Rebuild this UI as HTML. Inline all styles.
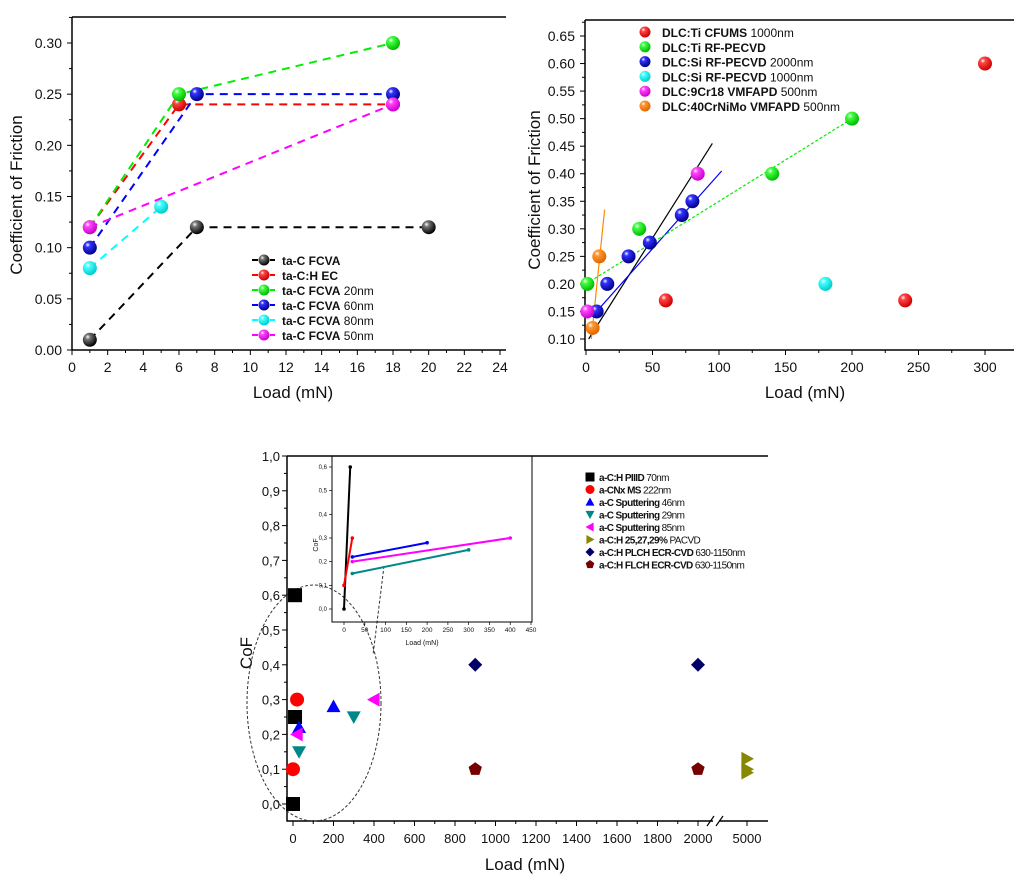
<!DOCTYPE html>
<html><head><meta charset="utf-8"><style>
body{margin:0;background:#fff;width:1024px;height:880px;overflow:hidden}
svg{position:absolute;left:0;top:0;font-family:"Liberation Sans",sans-serif}
</style></head><body>
<svg id="s" width="1024" height="880">
<defs>
<radialGradient id="gk" cx="0.35" cy="0.3" r="0.7"><stop offset="0" stop-color="#fff"/><stop offset="0.25" stop-color="#777"/><stop offset="1" stop-color="#000"/></radialGradient>
<radialGradient id="gr" cx="0.35" cy="0.3" r="0.7"><stop offset="0" stop-color="#fff"/><stop offset="0.25" stop-color="#f44"/><stop offset="1" stop-color="#c00"/></radialGradient>
<radialGradient id="gg" cx="0.35" cy="0.3" r="0.7"><stop offset="0" stop-color="#fff"/><stop offset="0.25" stop-color="#4f4"/><stop offset="1" stop-color="#0b0"/></radialGradient>
<radialGradient id="gb" cx="0.35" cy="0.3" r="0.7"><stop offset="0" stop-color="#fff"/><stop offset="0.25" stop-color="#33f"/><stop offset="1" stop-color="#008"/></radialGradient>
<radialGradient id="gc" cx="0.35" cy="0.3" r="0.7"><stop offset="0" stop-color="#fff"/><stop offset="0.25" stop-color="#4ff"/><stop offset="1" stop-color="#0cc"/></radialGradient>
<radialGradient id="gm" cx="0.35" cy="0.3" r="0.7"><stop offset="0" stop-color="#fff"/><stop offset="0.25" stop-color="#f4f"/><stop offset="1" stop-color="#c0c"/></radialGradient>
<radialGradient id="go" cx="0.35" cy="0.3" r="0.7"><stop offset="0" stop-color="#fff"/><stop offset="0.25" stop-color="#f93"/><stop offset="1" stop-color="#d60"/></radialGradient>
</defs>
</svg>
<script>
// Panel A data
const aNames=["ta-C FCVA|","ta-C:H EC|","ta-C FCVA|20nm","ta-C FCVA|60nm","ta-C FCVA|80nm","ta-C FCVA|50nm"];
const aX=[[1,7,20],[1,6,18],[1,6,18],[1,7,18],[1,5],[1,18]];
const aY=[[0.01,0.12,0.12],[0.12,0.24,0.24],[0.12,0.25,0.30],[0.10,0.25,0.25],[0.08,0.14],[0.12,0.24]];
const aColors=["#000","#f00","#0e0","#00f","#0ff","#f0f"];
const aGrads=["gk","gr","gg","gb","gc","gm"];
const aXTicks=[0,2,4,6,8,10,12,14,16,18,20,22,24];
const aYTicks=[0,0.05,0.10,0.15,0.20,0.25,0.30];
// Panel B data
const bNames=["DLC:Ti CFUMS|1000nm","DLC:Ti RF-PECVD|","DLC:Si RF-PECVD|2000nm","DLC:Si RF-PECVD|1000nm","DLC:9Cr18 VMFAPD|500nm","DLC:40CrNiMo VMFAPD|500nm"];
const bX=[[60,240,300],[1,40,140,200],[8,16,32,48,72,80],[180],[1,84],[5,10]];
const bY=[[0.17,0.17,0.60],[0.20,0.30,0.40,0.50],[0.15,0.20,0.25,0.275,0.325,0.35],[0.20],[0.15,0.40],[0.12,0.25]];
const bGrads=["gr","gg","gb","gc","gm","go"];
const bFitX=[[2,95],[8,102],[4,14],[0,200]];
const bFitY=[[0.10,0.455],[0.15,0.405],[0.10,0.335],[0.20,0.50]];
const bFitC=["#000","#00f","#f80","#0e0"];
const bXTicks=[0,50,100,150,200,250,300];
const bYTicks=[0.10,0.15,0.20,0.25,0.30,0.35,0.40,0.45,0.50,0.55,0.60,0.65];
// Panel C data
const cNames=["a-C:H PIIID|70nm","a-CNx MS|222nm","a-C Sputtering|46nm","a-C Sputtering|29nm","a-C Sputtering|85nm","a-C:H 25,27,29%|PACVD","a-C:H PLCH ECR-CVD|630-1150nm","a-C:H FLCH ECR-CVD|630-1150nm"];
const cShapes=["sq","ci","tu","td","tl","tr","di","pe"];
const cColors=["#000","#f00","#00f","#088","#f0f","#880","#006","#700"];
const cX=[[10,10,0],[20,0],[200,30],[300,30],[400,20],[5000,5000,5000],[900,2000],[900,2000]];
const cY=[[0.6,0.25,0.0],[0.3,0.1],[0.28,0.22],[0.25,0.15],[0.3,0.2],[0.13,0.10,0.09],[0.4,0.4],[0.1,0.1]];
const cXTicks=[0,200,400,600,800,1000,1200,1400,1600,1800,2000];
const cYTicks=[0,0.1,0.2,0.3,0.4,0.5,0.6,0.7,0.8,0.9,1.0];
const iX=[[0,15],[0,20],[20,200],[20,400],[20,300]];
const iY=[[0,0.6],[0.1,0.3],[0.22,0.28],[0.2,0.3],[0.15,0.25]];
const iC=["#000","#f00","#00f","#f0f","#088"];
const iXTicks=[0,50,100,150,200,250,300,350,400,450];
const iYTicks=[0,0.1,0.2,0.3,0.4,0.5,0.6];

const S=document.getElementById('s');const NS="http://www.w3.org/2000/svg";
function mk(t,a,p){const e=document.createElementNS(NS,t);for(const k in a)e.setAttribute(k,a[k]);(p||S).appendChild(e);return e;}
function tx(x,y,s,sz,anc,extra){const e=mk('text',Object.assign({x:x,y:y,'font-size':sz,'text-anchor':anc||'middle',fill:'#111'},extra||{}));e.textContent=s;return e;}
function sc(d0,d1,r0,r1){return v=>r0+(v-d0)*(r1-r0)/(d1-d0);}

// ---------- Panel A ----------
{const gA=mk('g',{});


const X=sc(0,24,72,500),Y=sc(0,0.30,350,43);
mk('path',{d:'M72 17H506M72 17V350H506',stroke:'#000','stroke-width':1.5,fill:'none'},gA);
aXTicks.forEach(v=>{mk('line',{x1:X(v),x2:X(v),y1:350,y2:355,stroke:'#000'},gA);if(v<24)mk('line',{x1:X(v+1),x2:X(v+1),y1:350,y2:353,stroke:'#000'},gA);tx(X(v),372,v,14,'middle',{});});
aYTicks.forEach(v=>{mk('line',{x1:67,x2:72,y1:Y(v),y2:Y(v),stroke:'#000'},gA);mk('line',{x1:69,x2:72,y1:Y(v+0.025),y2:Y(v+0.025),stroke:'#000'},gA);tx(62,Y(v)+5,v.toFixed(2),14,'end');});
tx(293,398,'Load (mN)',17);
const yt=tx(0,0,'Coefficient of Friction',17,'middle',{transform:'translate(22,195) rotate(-90)'});

aX.forEach((xs,i)=>{const p=xs.map((x,j)=>X(x)+','+Y(aY[i][j])).join(' ');
const l=mk('polyline',{points:p,stroke:aColors[i],'stroke-width':2,'stroke-dasharray':'8,6',fill:'none'},gA);

xs.forEach((x,j)=>{const c=mk('circle',{cx:X(x),cy:Y(aY[i][j]),r:7,fill:'url(#'+aGrads[i]+')'},gA);

});});
aNames.forEach((n,i)=>{const y=260+i*15;mk('line',{x1:252,x2:275,y1:y,y2:y,stroke:aColors[i],'stroke-width':2,'stroke-dasharray':'6,3'},gA);mk('circle',{cx:264,cy:y,r:5.5,fill:'url(#'+aGrads[i]+')'},gA);
const p=n.split('|');const t=tx(282,y+5,'',12,'start');const a=mk('tspan',{'font-weight':'bold'},t);a.textContent=p[0];if(p[1]){const b=mk('tspan',{},t);b.textContent=' '+p[1];}
});
}
// ---------- Panel B ----------
{const X=sc(0,300,586,985),Y=sc(0.10,0.65,339,36);
mk('path',{d:'M585 20H1014M585 20V350H1014',stroke:'#000','stroke-width':1.5,fill:'none'});
bXTicks.forEach(v=>{mk('line',{x1:X(v),x2:X(v),y1:350,y2:355,stroke:'#000'});if(v<300)mk('line',{x1:X(v+25),x2:X(v+25),y1:350,y2:353,stroke:'#000'});tx(X(v),372,v,14);});
bYTicks.forEach(v=>{mk('line',{x1:580,x2:585,y1:Y(v),y2:Y(v),stroke:'#000'});mk('line',{x1:582,x2:585,y1:Y(v+0.025),y2:Y(v+0.025),stroke:'#000'});tx(575,Y(v)+5,v.toFixed(2),14,'end');});
tx(805,398,'Load (mN)',17);
tx(0,0,'Coefficient of Friction',17,'middle',{transform:'translate(540,190) rotate(-90)'});
bFitX.forEach((xs,i)=>{const l=mk('line',{x1:X(xs[0]),y1:Y(bFitY[i][0]),x2:X(xs[1]),y2:Y(bFitY[i][1]),stroke:bFitC[i],'stroke-width':1.2,'stroke-dasharray':i==3?'3,2':'none'});
});
bX.forEach((xs,i)=>xs.forEach((x,j)=>{const c=mk('circle',{cx:X(x),cy:Y(bY[i][j]),r:7,fill:'url(#'+bGrads[i]+')'});

}));
bNames.forEach((n,i)=>{const y=32+i*14.8;mk('circle',{cx:645,cy:y,r:5.5,fill:'url(#'+bGrads[i]+')'});const p=n.split('|');
const t=tx(662,y+5,'',12,'start');const a=mk('tspan',{'font-weight':'bold'},t);a.textContent=p[0];if(p[1]){const b=mk('tspan',{},t);b.textContent=' '+p[1];}
});
}
// ---------- Panel C ----------
{const X=v=>v>=5000?747:293+v*(698-293)/2000,Y=sc(0,1,804,456);
mk('path',{d:'M287 456H768M287 456V821H713M719 821H768',stroke:'#000','stroke-width':1.5,fill:'none'});
mk('path',{d:'M707 826L714 816M716 826L723 816',stroke:'#000','stroke-width':1.2});
cXTicks.forEach(v=>{mk('line',{x1:X(v),x2:X(v),y1:821,y2:826,stroke:'#000'});if(v<2000)mk('line',{x1:X(v+100),x2:X(v+100),y1:821,y2:824,stroke:'#000'});tx(X(v),843,v,13);});
mk('line',{x1:747,x2:747,y1:821,y2:826,stroke:'#000'});tx(747,843,'5000',13);
cYTicks.forEach(v=>{mk('line',{x1:282,x2:287,y1:Y(v),y2:Y(v),stroke:'#000'});if(v<1)mk('line',{x1:284,x2:287,y1:Y(v+0.05),y2:Y(v+0.05),stroke:'#000'});tx(280,Y(v)+5,v.toFixed(1).replace('.',','),13,'end');});
tx(525,870,'Load (mN)',17);
tx(0,0,'CoF',17,'middle',{transform:'translate(252,653) rotate(-90)'});
mk('ellipse',{cx:314,cy:703,rx:67,ry:118,fill:'none',stroke:'#333','stroke-dasharray':'3,2'});
mk('line',{x1:384,y1:566,x2:373,y2:655,stroke:'#333','stroke-dasharray':'3,2'});
function shape(t,x,y,c,r){let d;
if(t=='sq')return mk('rect',{x:x-r,y:y-r,width:2*r,height:2*r,fill:c});
if(t=='ci')return mk('circle',{cx:x,cy:y,r:r,fill:c});
if(t=='tu')d=`M${x} ${y-r}L${x+r} ${y+r*0.8}L${x-r} ${y+r*0.8}Z`;
if(t=='td')d=`M${x} ${y+r}L${x+r} ${y-r*0.8}L${x-r} ${y-r*0.8}Z`;
if(t=='tl')d=`M${x-r} ${y}L${x+r*0.8} ${y-r}L${x+r*0.8} ${y+r}Z`;
if(t=='tr')d=`M${x+r} ${y}L${x-r*0.8} ${y-r}L${x-r*0.8} ${y+r}Z`;
if(t=='di')d=`M${x} ${y-r}L${x+r} ${y}L${x} ${y+r}L${x-r} ${y}Z`;
if(t=='pe'){d='M';for(let k=0;k<5;k++){const a=-Math.PI/2+k*2*Math.PI/5;d+=(k?'L':'')+(x+r*Math.cos(a))+' '+(y+r*Math.sin(a));}d+='Z';}
return mk('path',{d:d,fill:c});}
cX.forEach((xs,i)=>xs.forEach((x,j)=>{const e=shape(cShapes[i],X(x),Y(cY[i][j]),cColors[i],7);

}));
cNames.forEach((n,i)=>{const y=477+i*12.5;shape(cShapes[i],590,y,cColors[i],4.5);const p=n.split('|');
const t=tx(599,y+4,'',10,'start',{'letter-spacing':'-0.6'});const a=mk('tspan',{'font-weight':'bold'},t);a.textContent=p[0];const b=mk('tspan',{},t);b.textContent=' '+p[1];
});
// inset
const IX=sc(0,450,344,531),IY=sc(0,0.6,609,467);
const ib=mk('rect',{x:332,y:456,width:200,height:166,fill:'none',stroke:'#000','stroke-width':1});

iXTicks.forEach(v=>{mk('line',{x1:IX(v),x2:IX(v),y1:622,y2:625,stroke:'#000','stroke-width':.7});tx(IX(v),632,v,6.5);});
iYTicks.forEach(v=>{mk('line',{x1:329,x2:332,y1:IY(v),y2:IY(v),stroke:'#000','stroke-width':.7});tx(327,IY(v)+2,v.toFixed(1).replace('.',','),6,'end');});
tx(422,645,'Load (mN)',7);tx(0,0,'CoF',7,'middle',{transform:'translate(318,545) rotate(-90)'});
iX.forEach((xs,i)=>{const l=mk('line',{x1:IX(xs[0]),y1:IY(iY[i][0]),x2:IX(xs[1]),y2:IY(iY[i][1]),stroke:iC[i],'stroke-width':2});

mk('circle',{cx:IX(xs[0]),cy:IY(iY[i][0]),r:1.8,fill:iC[i]});mk('circle',{cx:IX(xs[1]),cy:IY(iY[i][1]),r:1.8,fill:iC[i]});});
}
</script>
</body></html>
